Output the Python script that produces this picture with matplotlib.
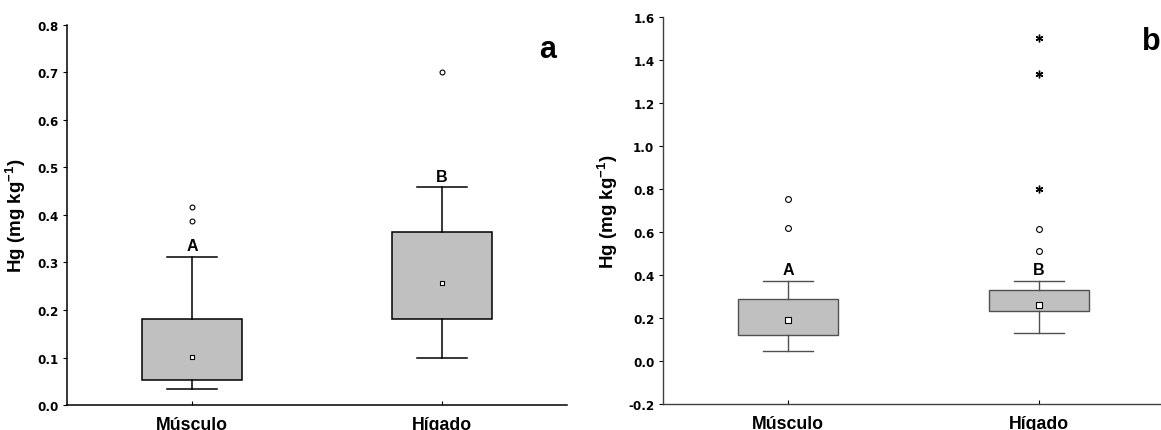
import matplotlib.pyplot as plt

plt.rcParams['font.family'] = 'Liberation Sans'
plt.rcParams['font.weight'] = 'bold'
plt.rcParams['mathtext.fontset'] = 'custom'
plt.rcParams['mathtext.rm'] = 'Liberation Sans:bold'
plt.rcParams['mathtext.bf'] = 'Liberation Sans:bold'
plt.rcParams['mathtext.it'] = 'Liberation Sans:bold'

tejidos = ['Músculo', 'Hígado']

# Panel a: box stats per tissue (Hg, mg/kg)
a_q1 = [0.053, 0.182]
a_med = [0.101, 0.257]
a_q3 = [0.182, 0.365]
a_wlo = [0.033, 0.100]
a_whi = [0.311, 0.458]
a_out = [[0.387, 0.416], [0.702]]
a_ext = [[], []]
a_letras = ['A', 'B']

# Panel b
b_q1 = [0.119, 0.232]
b_med = [0.190, 0.261]
b_q3 = [0.288, 0.331]
b_wlo = [0.044, 0.131]
b_whi = [0.370, 0.370]
b_out = [[0.617, 0.752], [0.513, 0.614]]
b_ext = [[], [0.800, 1.338, 1.502]]
b_letras = ['A', 'B']


def panel(ax, q1, med, q3, wlo, whi, out, ext, letras, color, lw, msize, letra_off):
    stats = []
    for i in range(len(tejidos)):
        stats.append(dict(q1=q1[i], med=med[i], q3=q3[i], whislo=wlo[i],
                          whishi=whi[i], fliers=[], label=tejidos[i]))
    ax.bxp(stats, positions=[1, 2], widths=0.4, patch_artist=True,
           showfliers=False,
           boxprops=dict(facecolor='#c0c0c0', edgecolor=color, linewidth=lw),
           whiskerprops=dict(color=color, linewidth=lw),
           capprops=dict(color=color, linewidth=lw),
           medianprops=dict(linewidth=0),
           capwidths=0.2)
    for i, x in enumerate([1, 2]):
        ax.plot([x], [med[i]], 's', ms=msize, mfc='white', mec='black', mew=0.8, zorder=5)
        ax.plot([x] * len(out[i]), out[i], 'o', ms=msize, mfc='white', mec='black',
                mew=0.8, zorder=5)
        ax.plot([x] * len(ext[i]), ext[i], marker=(6, 2, 0), ls='none', ms=5.5,
                color='black', mew=1.0, zorder=5)
        ax.text(x, whi[i] + letra_off, letras[i], ha='center', va='bottom',
                fontsize=11.5, fontweight='bold')
    ax.set_xlim(0.5, 2.5)
    ax.set_xticks([1, 2])
    ax.set_xticklabels(tejidos, fontsize=12.8, fontweight='bold')
    ax.tick_params(axis='x', direction='in', length=3, pad=8)
    ax.tick_params(axis='y', direction='out', length=3, pad=3)
    for lab in ax.get_yticklabels():
        lab.set_family('DejaVu Sans')
        lab.set_fontweight('bold')
        lab.set_fontsize(8.6)
    ax.spines['top'].set_visible(False)
    ax.spines['right'].set_visible(False)
    ax.set_ylabel('Hg (mg kg$^{-1}$)', fontsize=13.5, fontweight='bold')


fig = plt.figure(figsize=(11.61, 4.31), dpi=100)

ax1 = fig.add_axes([0.0577, 0.058, 0.4307, 0.8817])
ax1.set_ylim(0, 0.8)
ax1.set_yticks([0, 0.1, 0.2, 0.3, 0.4, 0.5, 0.6, 0.7, 0.8])
ax1.set_yticklabels(['0.0', '0.1', '0.2', '0.3', '0.4', '0.5', '0.6', '0.7', '0.8'])
panel(ax1, a_q1, a_med, a_q3, a_wlo, a_whi, a_out, a_ext, a_letras,
      'black', 1.1, 3.5, 0.008)
for s in ax1.spines.values():
    s.set_linewidth(1.1)
ax1.yaxis.set_label_coords(-0.078, 0.5)
ax1.text(0.962, 0.937, 'a', transform=ax1.transAxes, fontsize=22, fontweight='bold',
         ha='center', va='center')

ax2 = fig.add_axes([0.5708, 0.061, 0.432, 0.8965])
ax2.set_ylim(-0.2, 1.6)
ax2.set_yticks([-0.2, 0, 0.2, 0.4, 0.6, 0.8, 1.0, 1.2, 1.4, 1.6])
ax2.set_yticklabels(['-0.2', '0.0', '0.2', '0.4', '0.6', '0.8', '1.0', '1.2', '1.4', '1.6'])
panel(ax2, b_q1, b_med, b_q3, b_wlo, b_whi, b_out, b_ext, b_letras,
      '#505050', 1.0, 4.2, 0.02)
for s in ax2.spines.values():
    s.set_linewidth(1.0)
    s.set_color('#404040')
ax2.yaxis.set_label_coords(-0.085, 0.5)
ax2.text(0.975, 0.94, 'b', transform=ax2.transAxes, fontsize=22, fontweight='bold',
         ha='center', va='center')

fig.savefig('out.png', dpi=100)
